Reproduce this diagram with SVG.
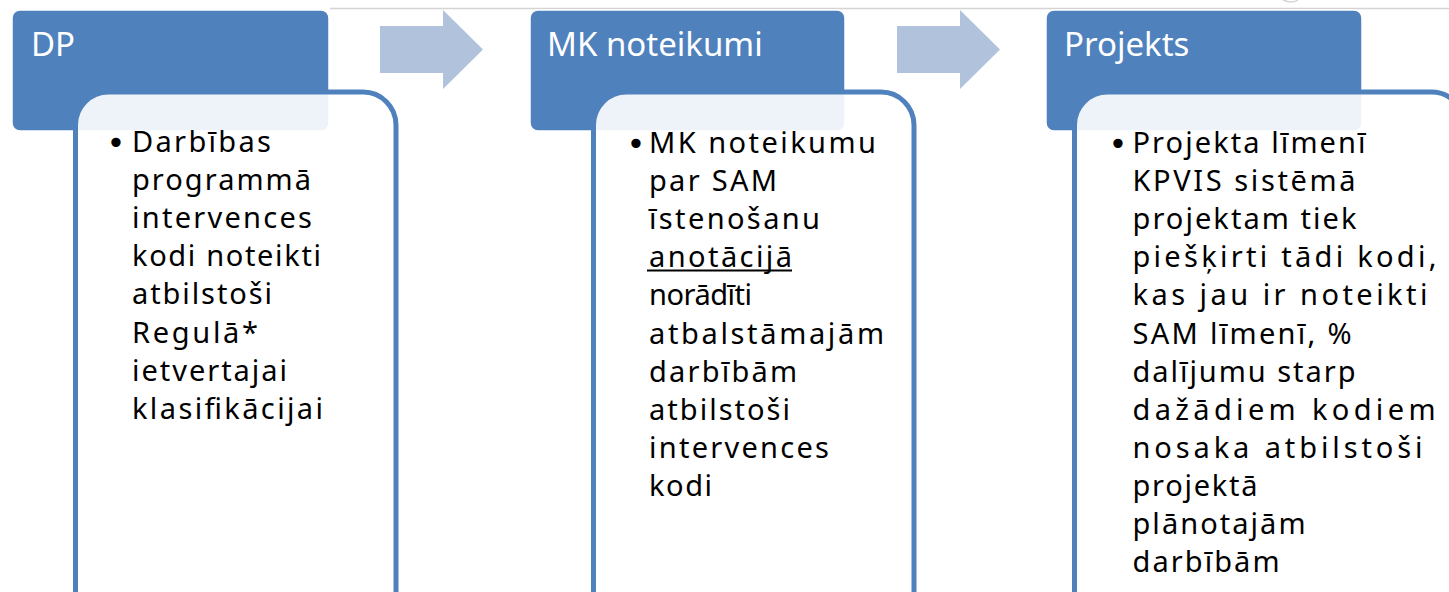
<svg xmlns="http://www.w3.org/2000/svg" width="1449" height="592" viewBox="0 0 1449 592">
<style>
.hdr{fill:#4F81BD;stroke:#FFFFFF;stroke-width:1.5}
.hdrt{font-family:"Noto Sans","Open Sans",sans-serif;font-size:33px;fill:#FFFFFF}
.box{fill:#FFFFFF;fill-opacity:0.9;stroke:#4F81BD;stroke-width:5}
.body{font-family:"Noto Sans","Open Sans",sans-serif;font-size:29px;fill:#000000}
.bul{font-family:"DejaVu Sans",sans-serif;font-size:32px;fill:#000000}
.arr{fill:#B1C2DD}
</style>
<rect width="1449" height="592" fill="#FFFFFF"/>
<g id="background">
<line x1="330" y1="8.5" x2="1449" y2="8.5" stroke="#D4D4D4" stroke-width="1.5"/>
<path d="M1283 0 Q1292 4 1298 0" fill="none" stroke="#D4D4D4" stroke-width="1.5"/>
</g>
<g id="connectors">
<polygon class="arr" points="380,26 443,26 443,10 483,49.5 443,89 443,73 380,73"/>
<polygon class="arr" points="897,26 960,26 960,10 1000,49.5 960,89 960,73 897,73"/>
</g>
<g id="node-dp">
<rect class="hdr" x="12" y="10" width="317" height="121" rx="8"/>
<text class="hdrt" x="31" y="56">DP</text>
<rect class="box" x="75.5" y="92" width="320.5" height="560" rx="33"/>
<text class="bul" x="106.6" y="153.5">•</text>
<g class="body">
<text x="132" y="152" textLength="139" lengthAdjust="spacing">Darbības</text>
<text x="132" y="190.1" textLength="179" lengthAdjust="spacing">programmā</text>
<text x="132" y="228.2" textLength="180" lengthAdjust="spacing">intervences</text>
<text x="132" y="266.3" textLength="189" lengthAdjust="spacing">kodi noteikti</text>
<text x="132" y="304.4" textLength="140" lengthAdjust="spacing">atbilstoši</text>
<text x="132" y="342.5" textLength="126" lengthAdjust="spacing">Regulā*</text>
<text x="132" y="380.6" textLength="155" lengthAdjust="spacing">ietvertajai</text>
<text x="132" y="418.7" textLength="191" lengthAdjust="spacing">klasifikācijai</text>
</g>
</g>
<g id="node-mk">
<rect class="hdr" x="530" y="10" width="315" height="121" rx="8"/>
<text class="hdrt" x="547" y="56">MK noteikumi</text>
<rect class="box" x="593.5" y="92" width="320.5" height="560" rx="33"/>
<text class="bul" x="626.5" y="154.5">•</text>
<g class="body">
<text x="649" y="153" textLength="227" lengthAdjust="spacing">MK noteikumu</text>
<text x="649" y="191.1" textLength="128" lengthAdjust="spacing">par SAM</text>
<text x="649" y="229.2" textLength="171" lengthAdjust="spacing">īstenošanu</text>
<text x="649" y="267.3" textLength="143" lengthAdjust="spacing">anotācijā</text>
<text x="649" y="305.4" textLength="103" lengthAdjust="spacing">norādīti</text>
<text x="649" y="343.5" textLength="235" lengthAdjust="spacing">atbalstāmajām</text>
<text x="649" y="381.6" textLength="148" lengthAdjust="spacing">darbībām</text>
<text x="649" y="419.7" textLength="141" lengthAdjust="spacing">atbilstoši</text>
<text x="649" y="457.8" textLength="180" lengthAdjust="spacing">intervences</text>
<text x="649" y="495.9" textLength="63" lengthAdjust="spacing">kodi</text>
</g>
<line x1="647" y1="270.5" x2="792" y2="270.5" stroke="#000000" stroke-width="2"/>
</g>
<g id="node-projekts">
<rect class="hdr" x="1046" y="10" width="316" height="121" rx="8"/>
<text class="hdrt" x="1064" y="56">Projekts</text>
<rect class="box" x="1074.5" y="92" width="390" height="560" rx="33"/>
<text class="bul" x="1108.6" y="154.5">•</text>
<g class="body">
<text x="1132.5" y="153" textLength="233" lengthAdjust="spacing">Projekta līmenī</text>
<text x="1132.5" y="191.1" textLength="223" lengthAdjust="spacing">KPVIS sistēmā</text>
<text x="1132.5" y="229.2" textLength="224" lengthAdjust="spacing">projektam tiek</text>
<text x="1132.5" y="267.3" textLength="304" lengthAdjust="spacing">piešķirti tādi kodi,</text>
<text x="1132.5" y="305.4" textLength="295" lengthAdjust="spacing">kas jau ir noteikti</text>
<text x="1132.5" y="343.5" textLength="219" lengthAdjust="spacing">SAM līmenī, %</text>
<text x="1132.5" y="381.6" textLength="223" lengthAdjust="spacing">dalījumu starp</text>
<text x="1132.5" y="419.7" textLength="303" lengthAdjust="spacing">dažādiem kodiem</text>
<text x="1132.5" y="457.8" textLength="290" lengthAdjust="spacing">nosaka atbilstoši</text>
<text x="1132.5" y="495.9" textLength="125" lengthAdjust="spacing">projektā</text>
<text x="1132.5" y="534" textLength="173" lengthAdjust="spacing">plānotajām</text>
<text x="1132.5" y="572.1" textLength="147" lengthAdjust="spacing">darbībām</text>
</g>
</g>
</svg>
